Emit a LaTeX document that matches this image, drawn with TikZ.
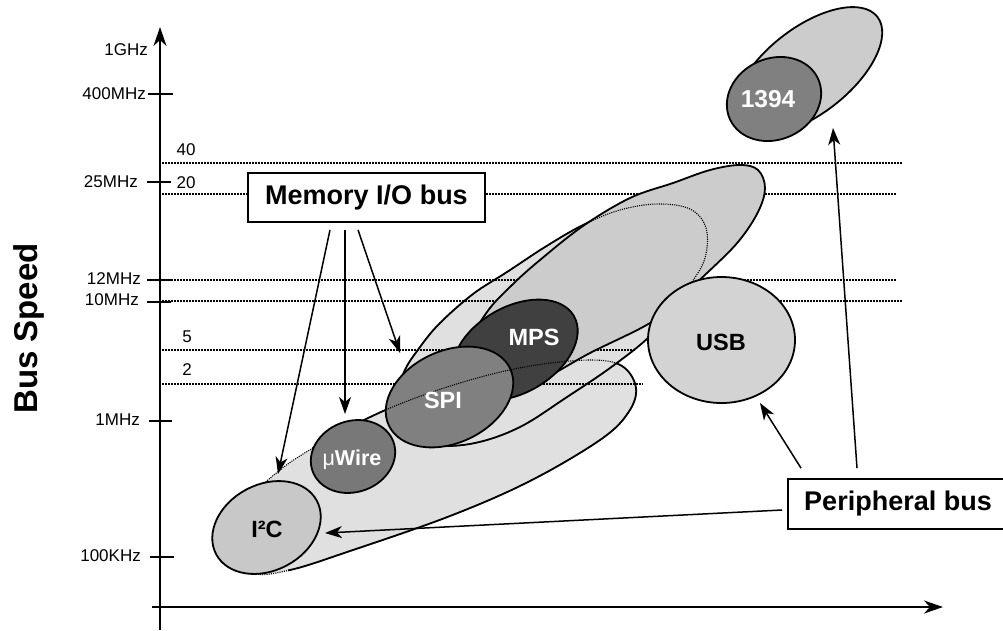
\documentclass[tikz,border=0pt]{standalone}
\usepackage{fontspec}
\setmainfont{Liberation Sans}
\usetikzlibrary{arrows.meta}
\definecolor{cA}{HTML}{E0E0E0}
\definecolor{cD}{HTML}{CCCCCC}
\definecolor{cI}{HTML}{C8C8C8}
\definecolor{cU}{HTML}{D3D3D3}
\definecolor{cW}{HTML}{787878}
\definecolor{cS}{HTML}{808080}
\definecolor{cM}{HTML}{404040}
\newcommand\fsz[1]{\fontsize{#1}{#1}\selectfont}
\begin{document}
\begin{tikzpicture}[x=1pt,y=-1pt,
  ol/.style={line width=1.8pt},
  gridline/.style={line width=1.6pt, dash pattern=on 1.5pt off 1.5pt},
  hid/.style={line width=1.1pt, dash pattern=on 1.1pt off 1.1pt},
  arr/.style={line width=1.5pt, -{Stealth[length=17pt,width=12pt,inset=5pt]}},
  axis/.style={line width=2pt, -{Stealth[length=19pt,width=13pt,inset=6pt]}},
  tickmark/.style={line width=1.6pt},
  tl/.style={anchor=east, font=\fsz{17}, inner sep=0pt},
  sl/.style={font=\fsz{17}, inner sep=0pt},
  lab/.style={font=\fsz{23.5}\bfseries, inner sep=0pt},
  boxlab/.style={draw, line width=1.8pt, fill=white, font=\fsz{27}\bfseries, inner sep=0pt}
]
\useasboundingbox (0,0) rectangle (1003,630);
\clip (0,0) rectangle (1003,630);

\def\Apath{plot[smooth cycle, tension=0.6] coordinates {(236,548) (255,496) (280,470) (313,448) (362,421) (410,400) (470,380) (530,366) (590,360) (622,366) (636,388) (628,413) (600,440) (530,481) (450,516) (350,551) (290,570) (252,573)}}
\def\Cpath{plot[smooth cycle, tension=0.6] coordinates {(410,432) (398,400) (404,372) (420,347) (440,323) (473,294) (507,272) (545,247) (583,225) (620,210) (657,204) (690,209) (706,228) (705,258) (690,285) (670,312) (648,338) (610,368) (567,397) (520,427) (475,443) (435,445)}}
\def\Dpath{plot[smooth cycle, tension=0.6] coordinates {(470,345) (487,312) (512,285) (540,260) (583,226) (630,198) (673,183) (710,170) (740,165) (758,170) (765,188) (758,212) (738,242) (707,273) (678,299) (650,323) (590,353) (540,380) (505,385) (480,372)}}

% big lower ellipse A
\fill[cA] \Apath;
\begin{scope}
  \clip (312,0) -- (1003,0) -- (1003,630) -- (288,630) -- (288,520) -- (312,520) -- cycle;
  \draw[ol] \Apath;
\end{scope}
% ellipse C
\filldraw[fill=cA, ol] \Cpath;

% grid lines
\draw[gridline] (162,163) -- (903,163);
\draw[gridline] (162,194) -- (897,194);
\draw[gridline] (162,280) -- (897,280);
\draw[gridline] (162,301) -- (902,301);
\draw[gridline] (162,350) -- (635,350);
\draw[gridline] (162,384) -- (643,384);

% ellipse D
\filldraw[fill=cD, ol] \Dpath;
\draw[hid] \Cpath;

% USB, MPS, SPI
\filldraw[fill=cU, ol] (721.5,340) ellipse [x radius=73.5, y radius=63];
\filldraw[fill=cM, ol, rotate around={30:(515,350)}] (515,350) ellipse [x radius=68, y radius=43];
\filldraw[fill=cS, ol, rotate around={25:(449.5,397)}] (449.5,397) ellipse [x radius=67, y radius=46];
\draw[hid] \Apath;
% uWire, I2C
\filldraw[fill=cW, ol, rotate around={20:(353,456.5)}] (353,456.5) ellipse [x radius=43, y radius=35.5];
\filldraw[fill=cI, ol, rotate around={28:(266.5,527.5)}] (266.5,527.5) ellipse [x radius=57, y radius=43];
% 1394
\filldraw[fill=cD, ol, rotate around={38:(808,71)}] (808,71) ellipse [x radius=88, y radius=43];
\filldraw[fill=cS, ol, rotate around={25:(774,99)}] (774,99) ellipse [x radius=48.5, y radius=40.5];

% shape labels
\node[lab] (i2cL) at (267,529) {I²C};
\node[lab, text=white, font=\fsz{21.5}\bfseries] (uwL) at (352,460) {{\mdseries μ}Wire};
\node[lab, text=white] (spiL) at (443,400) {SPI};
\node[lab, text=white] (mpsL) at (534,337) {MPS};
\node[lab] (usbL) at (721,342) {USB};
\node[lab, text=white, font=\fsz{24.5}\bfseries] (fwL) at (768,99) {1394};

% axes
\coordinate (yb) at (160,630);
\coordinate (yt) at (160,27);
\coordinate (xl) at (152,607);
\coordinate (xr) at (943,607);
\draw[axis] (yb) -- (yt);
\draw[axis] (xl) -- (xr);

% ticks
\draw[tickmark] (148,94) -- (173,94);
\draw[tickmark] (147,182) -- (171,182);
\draw[tickmark] (147,280) -- (172,280);
\draw[tickmark] (147,302) -- (171,302);
\draw[tickmark] (149,421) -- (172,421);
\draw[tickmark] (150,557) -- (174,557);

\node[tl] (t1g) at (148,50) {1GHz};
\node[tl] (t400) at (146,94) {400MHz};
\node[tl] (t25) at (138,182) {25MHz};
\node[tl] (t12) at (141,279) {12MHz};
\node[tl] (t10) at (139,300) {10MHz};
\node[tl] (t1m) at (140,420) {1MHz};
\node[tl] (t100k) at (141,556) {100KHz};

\node[sl] (n40) at (186,150) {40};
\node[sl] (n20) at (186,183) {20};
\node[sl] (n5) at (187,337) {5};
\node[sl] (n2) at (187,370) {2};

% axis title
\node[rotate=90, anchor=base, font=\fsz{33}\bfseries, inner sep=0pt] (ytitle) at (37,328.5) {Bus Speed};

% boxes
\node[boxlab, minimum width=237pt, minimum height=49pt] (mem) at (366.5,197.5) {Memory I/O bus};
\node[boxlab, minimum width=220pt, minimum height=50pt] (per) at (898,504) {Peripheral bus};

% arrows
\coordinate (ti2c) at (278,474);
\coordinate (tuw) at (345,414);
\coordinate (tspi) at (400,353);
\coordinate (ti2cb) at (325,533);
\coordinate (tusb) at (760,403);
\coordinate (tfw) at (833,128);
\draw[arr] ([xshift=-36.5pt,yshift=-7pt]mem.south) -- (ti2c);
\draw[arr] ([xshift=-21.5pt,yshift=-7pt]mem.south) -- (tuw);
\draw[arr] ([xshift=-8.5pt,yshift=-7pt]mem.south) -- (tspi);
\draw[arr] ([xshift=-5pt,yshift=-6pt]per.west) -- (ti2cb);
\draw[arr] ([xshift=-97pt,yshift=10pt]per.north) -- (tusb);
\draw[arr] ([xshift=-41pt,yshift=10pt]per.north) -- (tfw);
\end{tikzpicture}
\end{document}
